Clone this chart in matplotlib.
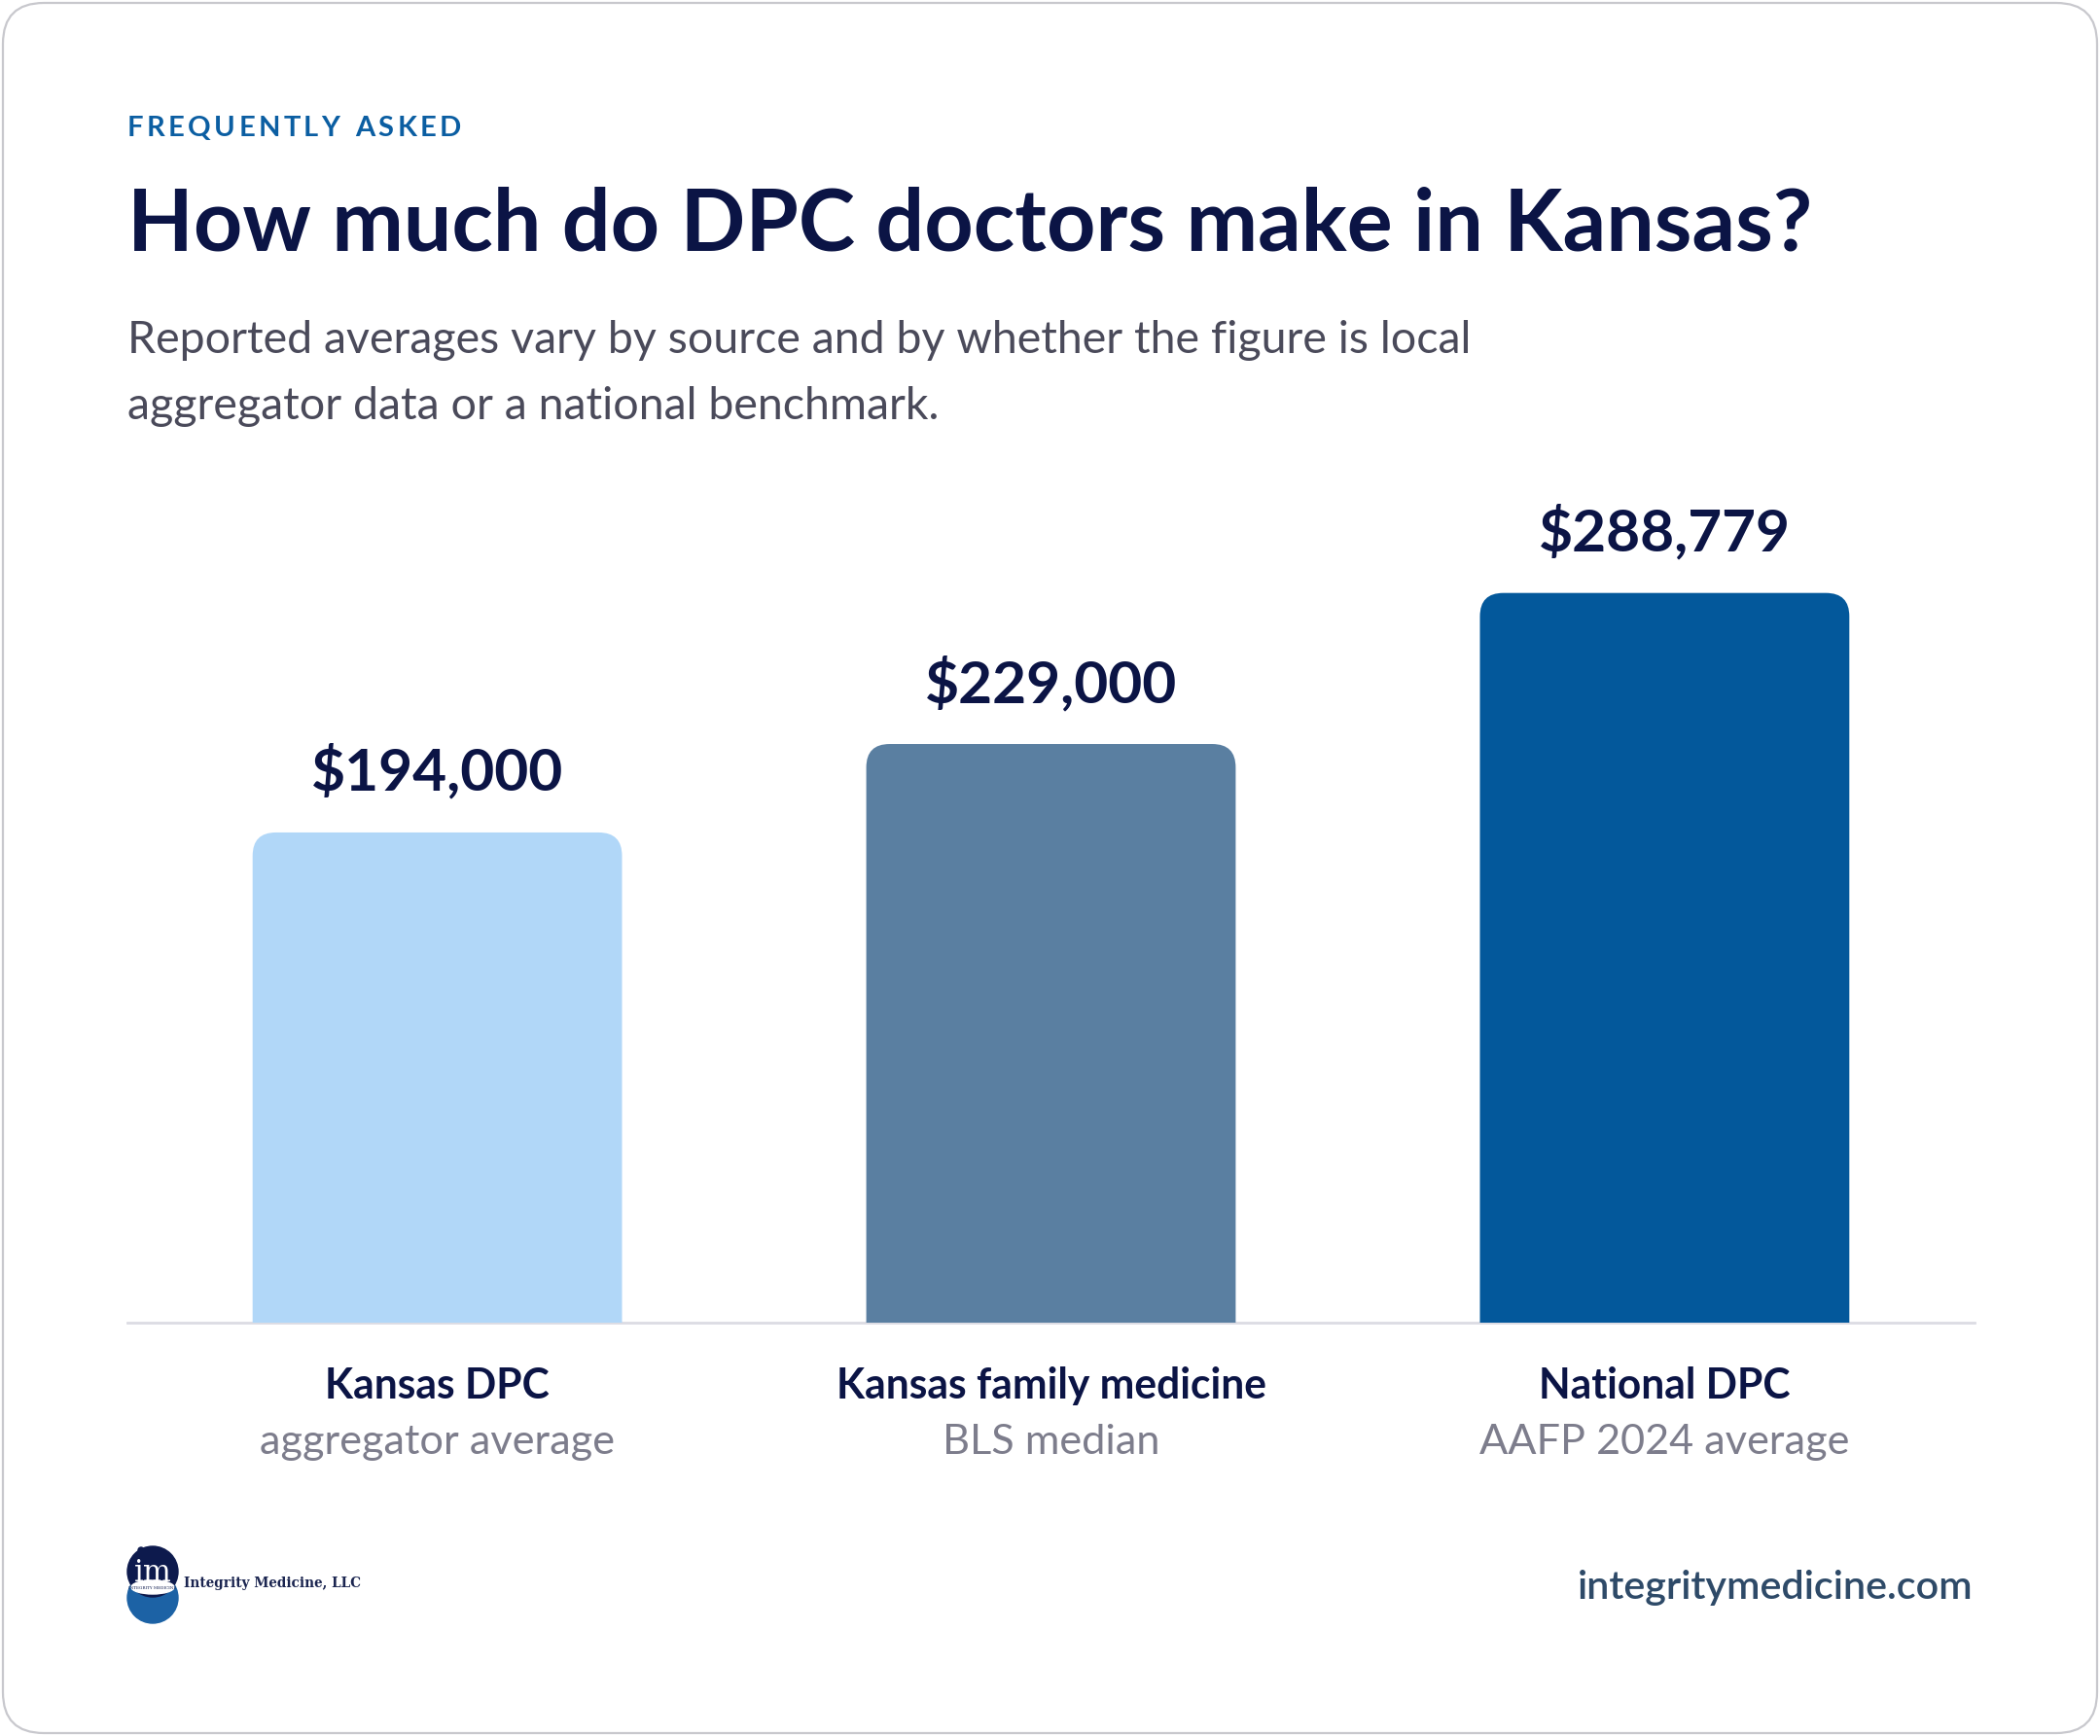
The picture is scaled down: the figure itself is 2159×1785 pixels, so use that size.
import matplotlib
matplotlib.use('Agg')
import matplotlib.pyplot as plt
from matplotlib.patches import FancyBboxPatch, Circle, Ellipse

# data
categories = ['Kansas DPC', 'Kansas family medicine', 'National DPC']
sublabels = ['aggregator average', 'BLS median', 'AAFP 2024 average']
values = [194000, 229000, 288779]
bar_colors = ['#b1d7f8', '#5a7fa1', '#03589b']

eyebrow = 'FREQUENTLY ASKED'
title = 'How much do DPC doctors make in Kansas?'
subtitle = ['Reported averages vary by source and by whether the figure is local',
            'aggregator data or a national benchmark.']
site = 'integritymedicine.com'
company = 'Integrity Medicine, LLC'

NAVY = '#0b1445'
FONT = 'Lato'

W, H = 2159, 1785
fig = plt.figure(figsize=(W / 100, H / 100), dpi=100)
fig.patch.set_facecolor('white')
r = fig.canvas.get_renderer()

# background axes in pixel coords (y down)
bg = fig.add_axes([0, 0, 1, 1], zorder=0)
bg.set_xlim(0, W)
bg.set_ylim(H, 0)
bg.axis('off')

card = FancyBboxPatch((3, 3), W - 6, H - 6, boxstyle='round,pad=0,rounding_size=42',
                      facecolor='white', edgecolor='#c8c8cd', lw=1.6)
bg.add_patch(card)


def fit_text(ax, x, y, s, width, **kw):
    t = ax.text(x, y, s, fontsize=40, **kw)
    w = t.get_window_extent(renderer=r).width
    t.set_fontsize(40 * width / w)
    return t


# eyebrow with letter spacing
ey_size = 21
widths = []
for ch in eyebrow:
    if ch == ' ':
        widths.append(None)
        continue
    t = bg.text(0, 0, ch, fontsize=ey_size, fontfamily=FONT, fontweight='bold')
    widths.append(t.get_window_extent(renderer=r).width)
    t.remove()
space_w = 9
ink = sum(w if w is not None else space_w for w in widths)
track = (343 - ink) / (len(eyebrow) - 1)
x = 131
for ch, w in zip(eyebrow, widths):
    if w is None:
        x += space_w + track
        continue
    bg.text(x, 140, ch, fontsize=ey_size, fontfamily=FONT, fontweight='bold',
            color='#0b5ea2', va='baseline', ha='left')
    x += w + track

fit_text(bg, 131, 257, title, 1731, fontfamily=FONT, fontweight='bold',
         color=NAVY, va='baseline', ha='left')
t1 = fit_text(bg, 131, 363, subtitle[0], 1384, fontfamily=FONT,
              color='#4a4a5a', va='baseline', ha='left')
bg.text(131, 431, subtitle[1], fontsize=t1.get_fontsize(), fontfamily=FONT,
        color='#4a4a5a', va='baseline', ha='left')

fit_text(bg, 2028, 1644, site, 407, fontfamily=FONT, fontweight='semibold',
         color='#2e4a68', va='baseline', ha='right')

# logo
bg.add_patch(Circle((157, 1643), 26, color='#1c62a5'))
bg.add_patch(Circle((157, 1616), 26, color='#0d1a4d'))
bg.add_patch(Ellipse((157, 1632), 44, 14, color='white'))
bg.text(157, 1626, 'im', fontsize=22, fontfamily='DejaVu Serif', color='white',
        ha='center', va='baseline')
bg.add_patch(Circle((145, 1594), 3, color='#0d1a4d'))
bg.text(157, 1633, 'INTEGRITY MEDICINE', fontsize=3, fontfamily='DejaVu Serif',
        color='#0d1a4d', ha='center', va='center')
fit_text(bg, 189, 1632, company, 182, fontfamily='DejaVu Serif', fontweight='bold',
         color='#1b2550', va='baseline', ha='left')

# chart axes
left, right, base, top = 131, 2030, 1360, 500
ax = fig.add_axes([left / W, 1 - base / H, (right - left) / W, (base - top) / H], zorder=1)
ax.patch.set_alpha(0)
ax.set_xlim(-0.505, 2.505)
ax.set_ylim(0, 331000)
ax.axis('off')

px_x = (right - left) / (2.505 + 0.505)
px_y = (base - top) / 331000
rad = 24
rx = rad / px_x
ry = rad / px_y
bw = 0.602

ax.axhline(0, color='#dcdce3', lw=2, zorder=1, clip_on=False)

# sizes fitted on one reference label each
probe = ax.text(0, 0, f'${values[0]:,}', fontsize=40, fontfamily=FONT, fontweight='bold')
lab_size = 40 * 259 / probe.get_window_extent(renderer=r).width
probe.remove()
probe = ax.text(0, 0, categories[1], fontsize=40, fontfamily=FONT, fontweight='bold')
cat_size = 40 * 442 / probe.get_window_extent(renderer=r).width
probe.remove()
probe = ax.text(0, 0, sublabels[0], fontsize=40, fontfamily=FONT)
sub_size = 40 * 365 / probe.get_window_extent(renderer=r).width
probe.remove()

for i, (v, c) in enumerate(zip(values, bar_colors)):
    p = FancyBboxPatch((i - bw / 2, -ry), bw, v + ry,
                       boxstyle=f'round,pad=0,rounding_size={rx}',
                       mutation_aspect=ry / rx, facecolor=c, edgecolor='none', zorder=2)
    ax.add_patch(p)
    ax.annotate(f'${v:,}', xy=(i, v), xytext=(0, 43 * 0.72), textcoords='offset points',
                ha='center', va='baseline', fontsize=lab_size,
                fontfamily=FONT, fontweight='bold', color=NAVY)
    ax.annotate(categories[i], xy=(i, 0), xytext=(0, -78 * 0.72), textcoords='offset points',
                ha='center', va='baseline', fontsize=cat_size,
                fontfamily=FONT, fontweight='bold', color=NAVY, annotation_clip=False)
    ax.annotate(sublabels[i], xy=(i, 0), xytext=(0, -135 * 0.72), textcoords='offset points',
                ha='center', va='baseline', fontsize=sub_size,
                fontfamily=FONT, color='#7d7d8c', annotation_clip=False)

fig.savefig('out.png', dpi=100, facecolor='white')
